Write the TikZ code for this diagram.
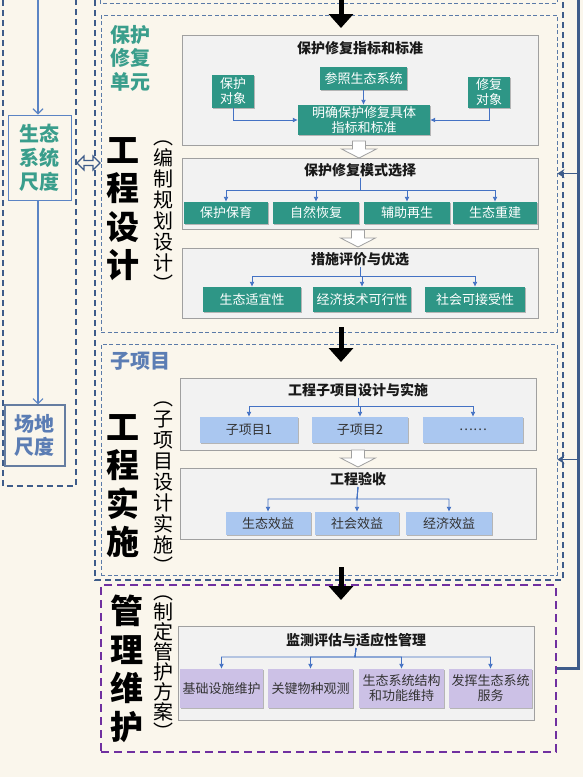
\documentclass[tikz,border=0pt]{standalone}
\usepackage{fontspec}
\setmainfont{Noto Sans CJK SC}
\usetikzlibrary{arrows.meta,shadows}
\definecolor{bgc}{RGB}{250,246,236}
\definecolor{panelfill}{RGB}{242,242,242}
\definecolor{panelborder}{RGB}{160,160,160}
\definecolor{tealbox}{RGB}{46,150,134}
\definecolor{lblue}{RGB}{170,199,240}
\definecolor{lpurple}{RGB}{204,193,230}
\definecolor{cblue}{RGB}{68,114,196}
\definecolor{dblue}{RGB}{62,92,138}
\definecolor{mblue}{RGB}{90,122,168}
\definecolor{tealtxt}{RGB}{58,158,140}
\definecolor{bluetxt}{RGB}{91,125,180}
\definecolor{lline}{RGB}{91,132,196}
\definecolor{purpdash}{RGB}{112,48,160}
\newcommand\myfs[2]{\fontsize{#1}{#2}\selectfont}
\newcommand\hollowdown[1]{\draw[hollowarr] (#1) ++(-6.5,0) -- ++(13,0) -- ++(0,8) -- ++(11,0) -- ++(-17.5,9) -- ++(-17.5,-9) -- ++(11,0) -- cycle;}
\begin{document}
\begin{tikzpicture}[x=1pt,y=-1pt,
  panel/.style={draw=panelborder, fill=panelfill, line width=0.9pt, inner sep=0},
  ptitle/.style={font=\myfs{14}{16}\bfseries, text=black!90, inner sep=1pt},
  boxbase/.style={align=center, inner sep=0, font=\myfs{13}{15},
     drop shadow={shadow xshift=1.2pt, shadow yshift=-1.2pt, opacity=0.25, fill=black}},
  tbox/.style={boxbase, fill=tealbox, text=white},
  bbox/.style={boxbase, fill=lblue, text=black!80},
  ubox/.style={boxbase, fill=lpurple, text=black!80},
  conn/.style={draw=cblue, line width=0.9pt, -{Latex[length=5pt,width=5pt]}},
  hollowarr/.style={draw=panelborder, fill=white, line width=0.8pt},
  bigarrow/.style={draw=black, line width=5pt, -{Triangle[length=14pt,width=24pt]}},
  outerdash/.style={draw=dblue, line width=1.3pt, dash pattern=on 6pt off 4pt},
  innerdash/.style={draw=mblue, line width=0.9pt, dash pattern=on 4pt off 2.5pt},
  purpledash/.style={draw=purpdash, line width=1.8pt, dash pattern=on 8pt off 5pt},
  bigt/.style={font=\myfs{33}{38.5}\bfseries, align=center, inner sep=0},
  parent/.style={font=\myfs{20}{21}, align=center, inner sep=0},
  rline/.style={draw=dblue, line width=3pt},
  rarr/.style={draw=dblue, line width=1.8pt, -{Stealth[length=7pt,width=9pt]}},
  llin/.style={draw=lline, line width=1.1pt, -{Straight Barb[length=5pt,width=10pt]}},
]
\useasboundingbox (0,0) rectangle (583,777);
\fill[bgc] (0,0) rectangle (583,777);
\begin{scope}
\clip (0,0) rectangle (583,777);

% ---------- dashed frames ----------
\draw[outerdash] (3,-10) rectangle (76,486);
\draw[outerdash] (95,-10) rectangle (563,580);
\draw[innerdash] (100,-20) rectangle (557,3);
\node[innerdash, minimum width=456, minimum height=317, inner sep=0] (unit1) at (329,173.5) {};
\node[innerdash, minimum width=456, minimum height=231, inner sep=0] (unit2) at (329,459.5) {};
\node[purpledash, minimum width=455, minimum height=167, inner sep=0] (mgmt) at (328.5,668.5) {};

% ---------- left column ----------
\node[draw=lline, line width=1pt, fill=bgc, minimum width=63, minimum height=85, inner sep=0,
      font=\myfs{20}{24}\bfseries, text=tealtxt, align=center] (eco) at (39.5,157.5) {生态\\系统\\尺度};
\node[draw=dblue!80, line width=1.2pt, fill=bgc, minimum width=60, minimum height=61, inner sep=0,
      font=\myfs{20}{23}\bfseries, text=bluetxt, align=center] (site) at (35,435.5) {场地\\尺度};
\coordinate (ltop) at (38,-5);
\draw[llin] (ltop) -- (ltop |- eco.north);
\draw[llin] (eco.south -| ltop) -- (site.north -| ltop);

% double hollow arrow
\coordinate (dbl) at (77,163);
\draw[draw=dblue, fill=bgc, line width=1.2pt] (dbl) -- ++(7,-7) -- ++(0,4.5) -- ++(9,0) -- ++(0,-4.5)
   -- ++(7,7) -- ++(-7,7) -- ++(0,-4.5) -- ++(-9,0) -- ++(0,4.5) -- cycle;

% ---------- right feedback line ----------
\coordinate (rt) at (578,-5);
\coordinate (rc) at (578,668.5);
\draw[rline] (rt) -- (rc) -- (mgmt.east);
\draw[rarr] (rc |- unit1.east) -- (unit1.east);
\draw[rarr] (rc |- unit2.east) -- (unit2.east);

% ---------- big black arrows ----------
\coordinate (a1s) at (341,-2); \coordinate (a1e) at (341,28);
\coordinate (a2s) at (341,327); \coordinate (a2e) at (341,362);
\coordinate (a3s) at (341,567); \coordinate (a3e) at (341,600);
\draw[bigarrow] (a1s) -- (a1e);
\draw[bigarrow] (a2s) -- (a2e);
\draw[bigarrow] (a3s) -- (a3e);

% ---------- section labels ----------
\node[font=\myfs{20}{23.5}\bfseries, text=tealtxt, align=center, inner sep=0] (lunit) at (130,58) {保护\\修复\\单元};
\node[font=\myfs{20}{23}\bfseries, text=bluetxt, inner sep=0] (lsub) at (140,361) {子项目};
\node[bigt] (gcsj) at (123,209) {工\\程\\设\\计};
\node[parent] (pgcsj) at (163,216.5) {︵\\编\\制\\规\\划\\设\\计\\︶};
\node[bigt] (gcss) at (123,486) {工\\程\\实\\施};
\node[parent] (pgcss) at (163,487.5) {︵\\子\\项\\目\\设\\计\\实\\施\\︶};
\node[bigt] (glwh) at (127,669) {管\\理\\维\\护};
\node[parent, font=\myfs{20}{20}] (pglwh) at (163,667.5) {︵\\制\\定\\管\\护\\方\\案\\︶};

% ---------- panel 1 ----------
\node[panel, minimum width=356, minimum height=110] (p1) at (360,90) {};
\node[ptitle] (t1) at (360,48) {保护修复指标和标准};
\node[tbox, minimum width=87, minimum height=23] (ref) at (363.5,78.5) {参照生态系统};
\node[tbox, minimum width=42, minimum height=33] (bh) at (233,91.5) {保护\\对象};
\node[tbox, minimum width=42, minimum height=31] (xf) at (489,92.5) {修复\\对象};
\node[tbox, minimum width=132, minimum height=30] (mq) at (364,120) {明确保护修复具体\\指标和标准};
\draw[conn] (ref.south) -- (ref.south |- mq.north);
\draw[conn] (bh.south) |- (mq.west);
\draw[conn] (xf.south) |- (mq.east);

\coordinate (h1) at (359,141);
\hollowdown{h1}

% ---------- panel 2 ----------
\node[panel, minimum width=356, minimum height=71] (p2) at (360,193.5) {};
\node[ptitle] (t2) at (360,170) {保护修复模式选择};
\node[tbox, minimum width=84, minimum height=22] (b21) at (226,213) {保护保育};
\node[tbox, minimum width=86, minimum height=22] (b22) at (316,213) {自然恢复};
\node[tbox, minimum width=86, minimum height=22] (b23) at (407,213) {辅助再生};
\node[tbox, minimum width=84, minimum height=22] (b24) at (495,213) {生态重建};
\coordinate (bus2) at (360,190);
\foreach \b in {b21,b22,b23,b24} \draw[conn] (t2.south) -- (bus2) -| (\b.north);

\coordinate (h2) at (358,230);
\hollowdown{h2}

% ---------- panel 3 ----------
\node[panel, minimum width=356, minimum height=70] (p3) at (360,283) {};
\node[ptitle] (t3) at (360,259) {措施评价与优选};
\node[tbox, minimum width=98, minimum height=25] (b31) at (252,299.5) {生态适宜性};
\node[tbox, minimum width=98, minimum height=25] (b32) at (362,299.5) {经济技术可行性};
\node[tbox, minimum width=100, minimum height=25] (b33) at (475,299.5) {社会可接受性};
\coordinate (bus3) at (360,276);
\foreach \b in {b31,b32,b33} \draw[conn] (t3.south) -- (bus3) -| (\b.north);

% ---------- panel 4 ----------
\node[panel, minimum width=356, minimum height=72] (p4) at (358,414) {};
\node[ptitle] (t4) at (358,390) {工程子项目设计与实施};
\node[bbox, minimum width=98, minimum height=26] (b41) at (249,430) {子项目1};
\node[bbox, minimum width=96, minimum height=26] (b42) at (360,430) {子项目2};
\node[bbox, minimum width=100, minimum height=26] (b43) at (473,430) {……};
\coordinate (bus4) at (358,406);
\foreach \b in {b41,b42,b43} \draw[conn] (t4.south) -- (bus4) -| (\b.north);

\coordinate (h3) at (358,450);
\hollowdown{h3}

% ---------- panel 5 ----------
\node[panel, minimum width=356, minimum height=71] (p5) at (358,503.5) {};
\node[ptitle] (t5) at (358,479) {工程验收};
\node[bbox, minimum width=85, minimum height=23] (b51) at (268,523.5) {生态效益};
\node[bbox, minimum width=84, minimum height=23] (b52) at (357,523.5) {社会效益};
\node[bbox, minimum width=86, minimum height=23] (b53) at (449,523.5) {经济效益};
\coordinate (bus5) at (357,499);
\foreach \b in {b51,b52,b53} \draw[conn] (t5.south) -- (bus5) -| (\b.north);

% ---------- panel 6 ----------
\node[panel, minimum width=356, minimum height=94] (p6) at (356,673) {};
\node[ptitle] (t6) at (356,640) {监测评估与适应性管理};
\node[ubox, minimum width=83, minimum height=39] (b61) at (221.5,688.5) {基础设施维护};
\node[ubox, minimum width=85, minimum height=39] (b62) at (310.5,688.5) {关键物种观测};
\node[ubox, minimum width=85, minimum height=39] (b63) at (401.5,688.5) {生态系统结构\\和功能维持};
\node[ubox, minimum width=83, minimum height=39] (b64) at (490.5,688.5) {发挥生态系统\\服务};
\coordinate (bus6) at (355,657);
\foreach \b in {b61,b62,b63,b64} \draw[conn] (t6.south) -- (bus6) -| (\b.north);

\end{scope}
\end{tikzpicture}
\end{document}
